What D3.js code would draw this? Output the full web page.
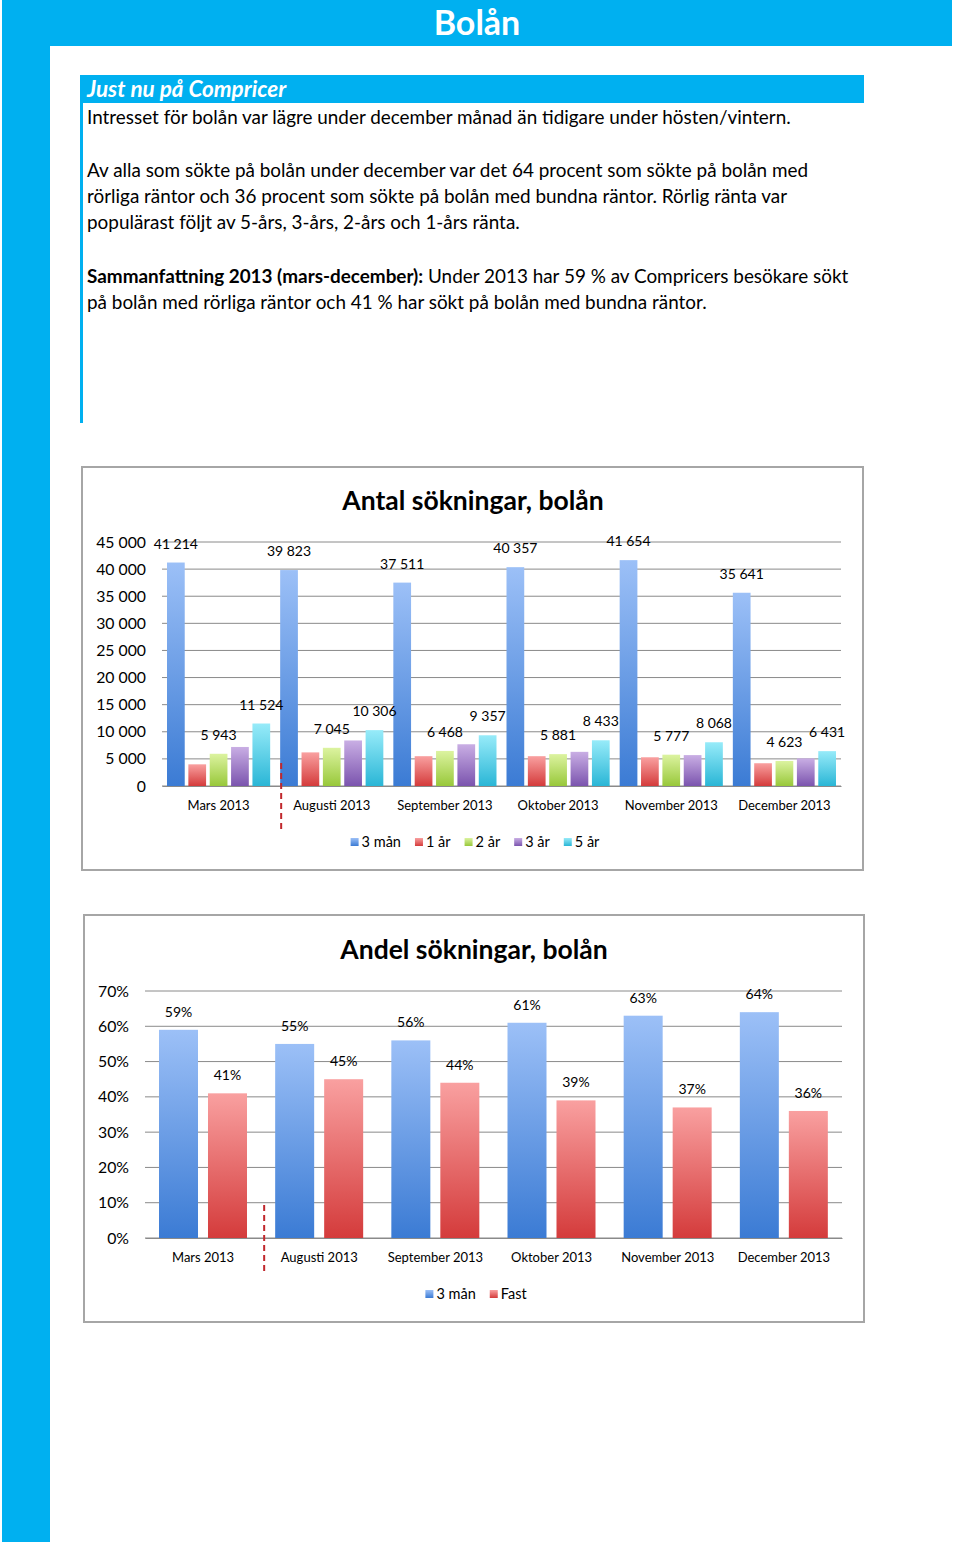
<!DOCTYPE html>
<meta charset="utf-8">
<style>
  body { margin: 0; background: #fff; }
  svg text { font-family: Lato, "Open Sans", sans-serif; }
</style>
<body>
<div id="page"></div>
<script src="https://d3js.org/d3.v7.min.js"></script>
<script>
// ---- data ----
var months = ["Mars 2013", "Augusti 2013", "September 2013", "Oktober 2013", "November 2013", "December 2013"];
var seriesNames = ["3 mån", "1 år", "2 år", "3 år", "5 år"];
var man3 = [41214, 39823, 37511, 40357, 41654, 35641];
var ar1  = [4000, 6200, 5500, 5500, 5300, 4200];
var ar2  = [5943, 7045, 6468, 5881, 5777, 4623];
var ar3  = [7200, 8400, 7700, 6300, 5700, 5100];
var ar5  = [11524, 10306, 9357, 8433, 8068, 6431];
var labelled = [true, false, true, false, true];   // which series carry data labels
var countTicks = [0, 5000, 10000, 15000, 20000, 25000, 30000, 35000, 40000, 45000];

var shareNames = ["3 mån", "Fast"];
var shareRorlig = [0.59, 0.55, 0.56, 0.61, 0.63, 0.64];
var shareFast   = [0.41, 0.45, 0.44, 0.39, 0.37, 0.36];
var shareTicks = [0, 0.1, 0.2, 0.3, 0.4, 0.5, 0.6, 0.7];

var textLines = [
  "Intresset för bolån var lägre under december månad än tidigare under hösten/vintern.",
  "",
  "Av alla som sökte på bolån under december var det 64 procent som sökte på bolån med",
  "rörliga räntor och 36 procent som sökte på bolån med bundna räntor. Rörlig ränta var",
  "populärast följt av 5-års, 3-års, 2-års och 1-års ränta.",
  ""
];

var blue = "#00b0f0";
var grads = [
  ["#9cc0f7", "#3b7bd4"],
  ["#f9a0a0", "#d43b3b"],
  ["#dcf3a0", "#98c83a"],
  ["#c9aee4", "#7b54ae"],
  ["#97ebf9", "#2ab6d6"]
];

var locale = d3.formatLocale({decimal: ",", thousands: " ", grouping: [3], currency: ["", ""]});
var fmtNum = locale.format(",d");
var fmtPct = d3.format(".0%");

var svg = d3.select("#page").append("svg")
  .attr("width", 960).attr("height", 1545);

var defs = svg.append("defs");
grads.forEach(function(g, i) {
  var lg = defs.append("linearGradient").attr("id", "g" + i)
    .attr("x1", 0).attr("y1", 0).attr("x2", 0).attr("y2", 1);
  lg.append("stop").attr("offset", "0%").attr("stop-color", g[0]);
  lg.append("stop").attr("offset", "100%").attr("stop-color", g[1]);
});

// ---- page frame ----
svg.append("rect").attr("x", 2).attr("y", 0).attr("width", 950).attr("height", 46).attr("fill", blue);
svg.append("rect").attr("x", 2).attr("y", 0).attr("width", 48).attr("height", 1542).attr("fill", blue);
svg.append("text").attr("x", 477).attr("y", 35).attr("text-anchor", "middle")
  .attr("fill", "#fff").attr("font-weight", "bold").attr("font-size", 34).text("Bolån");

// info box
svg.append("rect").attr("x", 82).attr("y", 75).attr("width", 782).attr("height", 28).attr("fill", blue);
svg.append("rect").attr("x", 80).attr("y", 75).attr("width", 3).attr("height", 348).attr("fill", blue);
svg.append("text").attr("x", 87).attr("y", 97).attr("fill", "#fff")
  .attr("font-weight", "bold").attr("font-style", "italic").attr("font-size", 22.5)
  .text("Just nu på Compricer");

textLines.forEach(function(t, i) {
  svg.append("text").attr("x", 87).attr("y", 124 + i * 26.3)
    .attr("font-size", 18.9).attr("fill", "#000").text(t);
});
var sum = svg.append("text").attr("x", 87).attr("y", 283).attr("font-size", 18.9).attr("fill", "#000");
sum.append("tspan").attr("font-weight", "bold").text("Sammanfattning 2013 (mars-december):");
sum.append("tspan").text(" Under 2013 har 59 % av Compricers besökare sökt");
svg.append("text").attr("x", 87).attr("y", 309).attr("font-size", 18.9).attr("fill", "#000")
  .text("på bolån med rörliga räntor och 41 % har sökt på bolån med bundna räntor.");

// ---- helpers ----
function legend(g, names, cx, cy) {
  var items = g.append("g");
  var x = 0;
  names.forEach(function(n, i) {
    var it = items.append("g").attr("transform", "translate(" + x + ",0)");
    it.append("rect").attr("x", 0).attr("y", cy - 4).attr("width", 8).attr("height", 8)
      .attr("fill", "url(#g" + i + ")");
    var t = it.append("text").attr("x", 11).attr("y", cy + 5).attr("font-size", 14.5).text(n);
    x += 11 + t.node().getComputedTextLength() + 14;
  });
  var w = x - 14;
  items.attr("transform", "translate(" + (cx - w / 2) + ",0)");
}

function frame(x, y, w, h, title, tx, ty) {
  svg.append("rect").attr("x", x).attr("y", y).attr("width", w).attr("height", h)
    .attr("fill", "#fff").attr("stroke", "#a6a6a6").attr("stroke-width", 2);
  svg.append("text").attr("x", tx).attr("y", ty).attr("text-anchor", "middle")
    .attr("font-weight", "bold").attr("font-size", 26.5).text(title);
}

// ---- chart 1: Antal sökningar ----
frame(82, 467, 781, 403, "Antal sökningar, bolån", 473, 510);

var series1 = [man3, ar1, ar2, ar3, ar5];
var y1 = d3.scaleLinear().domain([0, 45000]).range([786, 542]);
var x0a = d3.scaleBand().domain(months).range([162, 841]);
var x1a = d3.scaleBand().domain(d3.range(5)).range([5, x0a.bandwidth() - 5]).paddingInner(0.17);

var c1 = svg.append("g");
c1.append("g").selectAll("line").data(countTicks).join("line")
  .attr("x1", 162).attr("x2", 841)
  .attr("y1", function(d) { return y1(d); }).attr("y2", function(d) { return y1(d); })
  .attr("stroke", "#8a8a8a").attr("stroke-width", 1);
c1.append("g").attr("transform", "translate(146,0)")
  .call(d3.axisLeft(y1).tickValues(countTicks).tickFormat(fmtNum).tickSize(0).tickPadding(0))
  .call(function(g) { g.select(".domain").remove(); })
  .selectAll("text").attr("font-size", 15.8).attr("fill", "#000")
  .attr("font-family", "Lato, sans-serif");

var bars1 = c1.append("g"), labels1 = c1.append("g");
months.forEach(function(m, mi) {
  series1.forEach(function(s, si) {
    var bx = x0a(m) + x1a(si);
    bars1.append("rect").attr("x", bx).attr("width", x1a.bandwidth())
      .attr("y", y1(s[mi])).attr("height", y1(0) - y1(s[mi]))
      .attr("fill", "url(#g" + si + ")");
    if (labelled[si]) {
      labels1.append("text").attr("x", bx + x1a.bandwidth() / 2).attr("y", y1(s[mi]) - 14)
        .attr("text-anchor", "middle").attr("font-size", 14).text(fmtNum(s[mi]));
    }
  });
});
c1.append("g").attr("transform", "translate(0,786)")
  .call(d3.axisBottom(x0a).tickSize(0).tickPadding(15))
  .call(function(g) { g.select(".domain").attr("stroke", "#8a8a8a"); })
  .selectAll("text").attr("font-size", 13).attr("fill", "#000")
  .attr("font-family", "Lato, sans-serif");
c1.append("line").attr("x1", x0a(months[1]) + 6).attr("x2", x0a(months[1]) + 6)
  .attr("y1", 763).attr("y2", 831).attr("stroke", "#c0282d").attr("stroke-width", 2)
  .attr("stroke-dasharray", "6,4");
legend(c1, seriesNames, 475, 842);

// ---- chart 2: Andel sökningar ----
frame(84, 915, 780, 407, "Andel sökningar, bolån", 474, 959);

var series2 = [shareRorlig, shareFast];
var y2 = d3.scaleLinear().domain([0, 0.7]).range([1238, 991]);
var x0b = d3.scaleBand().domain(months).range([145, 842]);
var x1b = d3.scaleBand().domain(d3.range(2)).range([14, 102]).paddingInner(0.204);

var c2 = svg.append("g");
c2.append("g").selectAll("line").data(shareTicks).join("line")
  .attr("x1", 145).attr("x2", 842)
  .attr("y1", function(d) { return y2(d); }).attr("y2", function(d) { return y2(d); })
  .attr("stroke", "#8a8a8a").attr("stroke-width", 1);
c2.append("g").attr("transform", "translate(129,0)")
  .call(d3.axisLeft(y2).tickValues(shareTicks).tickFormat(fmtPct).tickSize(0).tickPadding(0))
  .call(function(g) { g.select(".domain").remove(); })
  .selectAll("text").attr("font-size", 15.8).attr("fill", "#000")
  .attr("font-family", "Lato, sans-serif");

var bars2 = c2.append("g"), labels2 = c2.append("g");
months.forEach(function(m, mi) {
  series2.forEach(function(s, si) {
    var bx = x0b(m) + x1b(si);
    bars2.append("rect").attr("x", bx).attr("width", x1b.bandwidth())
      .attr("y", y2(s[mi])).attr("height", y2(0) - y2(s[mi]))
      .attr("fill", "url(#g" + si + ")");
    labels2.append("text").attr("x", bx + x1b.bandwidth() / 2).attr("y", y2(s[mi]) - 13)
      .attr("text-anchor", "middle").attr("font-size", 14).text(fmtPct(s[mi]));
  });
});
c2.append("g").attr("transform", "translate(0,1238)")
  .call(d3.axisBottom(x0b).tickSize(0).tickPadding(15))
  .call(function(g) { g.select(".domain").attr("stroke", "#8a8a8a"); })
  .selectAll("text").attr("font-size", 13).attr("fill", "#000")
  .attr("font-family", "Lato, sans-serif");
c2.append("line").attr("x1", x0b(months[1]) + 3).attr("x2", x0b(months[1]) + 3)
  .attr("y1", 1205).attr("y2", 1275).attr("stroke", "#c0282d").attr("stroke-width", 2)
  .attr("stroke-dasharray", "6,4");
legend(c2, shareNames, 476, 1294);
</script>
</body>
